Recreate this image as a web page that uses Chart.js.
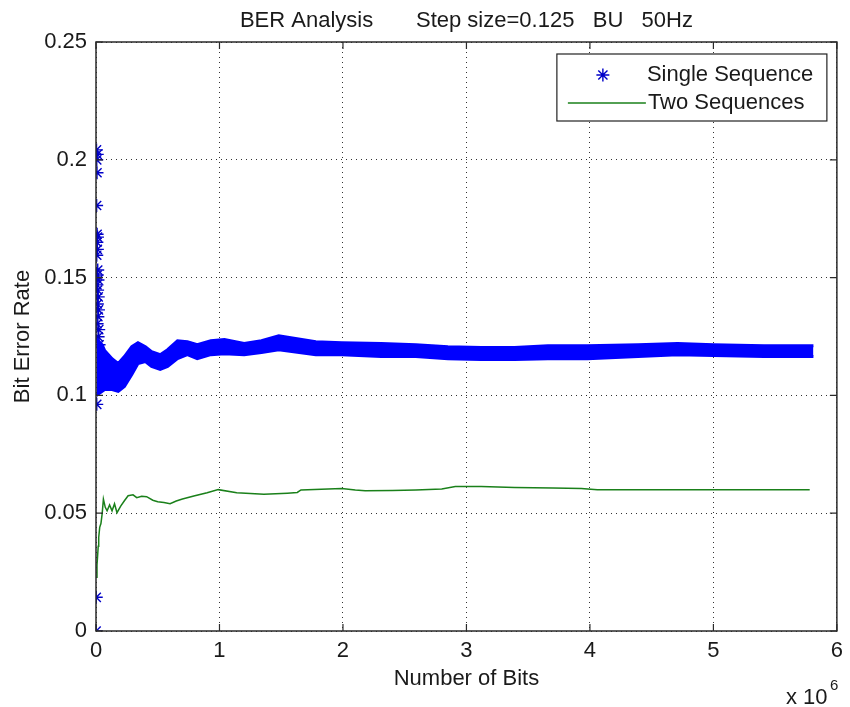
<!DOCTYPE html>
<html>
<head>
<meta charset="utf-8">
<script src="https://cdn.jsdelivr.net/npm/chart.js@4.4.1/dist/chart.umd.min.js"></script>
<style>
  html, body { margin:0; padding:0; background:#fff; }
  #wrap { width:850px; height:707px; }
</style>
</head>
<body>
<div id="wrap"><canvas id="berChart" width="850" height="707"></canvas></div>
<script>
// =====================================
// DATA  (x in units of 10^6 bits)
// =====================================

const xTicks = [0, 1, 2, 3, 4, 5, 6];
const xTickLabels = ['0', '1', '2', '3', '4', '5', '6'];
const yTicks = [0, 0.05, 0.1, 0.15, 0.2, 0.25];
const yTickLabels = ['0', '0.05', '0.1', '0.15', '0.2', '0.25'];

// Single Sequence - isolated stars at the very start
const singleX = [0.004, 0.010, 0.006, 0.008, 0.005, 0.009, 0.012, 0.007, 0.011, 0.006,
                 0.014, 0.010, 0.016, 0.008, 0.013, 0.018, 0.011, 0.020, 0.015, 0.009,
                 0.022, 0.017, 0.025, 0.006, 0.002, 0.001];
const singleY = [0.2042, 0.2023, 0.2000, 0.1945, 0.1806, 0.1684, 0.1672, 0.1650, 0.1620, 0.1595,
                 0.1532, 0.1511, 0.1490, 0.1469, 0.1447, 0.1418, 0.1388, 0.1363, 0.1334, 0.1304,
                 0.1279, 0.1249, 0.1215, 0.0962, 0.0143, 0.0];

// Single Sequence - dense star cloud, read as its upper / lower edge
const bandX = [0.003, 0.05, 0.07, 0.13, 0.18, 0.23, 0.29, 0.34, 0.40, 0.45,
               0.52, 0.58, 0.66, 0.74, 0.82, 0.93, 1.04, 1.20, 1.34, 1.48,
               1.78, 1.99, 2.31, 2.59, 2.85, 3.12, 3.39, 3.66, 3.98, 4.39,
               4.71, 5.00, 5.41, 5.81];
const bandUpper = [0.1240, 0.1215, 0.1190, 0.1156, 0.1135, 0.1165, 0.1207, 0.1224, 0.1207, 0.1186,
                   0.1173, 0.1194, 0.1232, 0.1228, 0.1215, 0.1232, 0.1237, 0.1220, 0.1232, 0.1253,
                   0.1228, 0.1224, 0.1220, 0.1215, 0.1207, 0.1203, 0.1203, 0.1211, 0.1211, 0.1215,
                   0.1220, 0.1215, 0.1211, 0.1211];
const bandLower = [0.1000, 0.1017, 0.1025, 0.1025, 0.1017, 0.1038, 0.1089, 0.1135, 0.1144, 0.1123,
                   0.1110, 0.1123, 0.1156, 0.1173, 0.1156, 0.1173, 0.1177, 0.1173, 0.1182, 0.1194,
                   0.1173, 0.1173, 0.1165, 0.1165, 0.1156, 0.1152, 0.1152, 0.1156, 0.1156, 0.1165,
                   0.1173, 0.1169, 0.1165, 0.1165];

// Two Sequences
const twoX = [0.005, 0.008, 0.012, 0.018, 0.022, 0.030, 0.040, 0.050, 0.060, 0.075,
              0.090, 0.110, 0.130, 0.150, 0.170, 0.200, 0.230, 0.260, 0.300, 0.330,
              0.370, 0.410, 0.460, 0.500, 0.550, 0.600, 0.650, 0.700, 0.800, 0.900,
              0.990, 1.140, 1.360, 1.550, 1.630, 1.660, 1.990, 2.100, 2.180, 2.400,
              2.590, 2.800, 2.910, 3.120, 3.390, 3.700, 3.930, 4.060, 4.500, 5.000,
              5.500, 5.780];
const twoY = [0.0228, 0.0280, 0.0310, 0.0360, 0.0397, 0.0440, 0.0456, 0.0498, 0.0560, 0.0525,
              0.0510, 0.0535, 0.0510, 0.0540, 0.0502, 0.0530, 0.0553, 0.0574, 0.0578, 0.0566,
              0.0572, 0.0570, 0.0555, 0.0549, 0.0545, 0.0540, 0.0552, 0.0560, 0.0574, 0.0587,
              0.0600, 0.0587, 0.0580, 0.0585, 0.0588, 0.0599, 0.0605, 0.0598, 0.0595, 0.0596,
              0.0599, 0.0603, 0.0613, 0.0613, 0.0609, 0.0607, 0.0605, 0.0600, 0.0600, 0.0600,
              0.0600, 0.0600];

// =====================================
// STYLE
// =====================================

const FONT = "'Liberation Sans', Arial, sans-serif";
const FSIZE = 22;
const TXT = '#1a1a1a';
const BLUE = '#0000ff';
const STAR = '#0000c8';
const GREEN = '#1a801a';

const pts = (xs, ys) => xs.map((x, i) => ({ x, y: ys[i] }));

// box, inward ticks, legend, title, exponent
const matlabFrame = {
  id: 'matlabFrame',
  afterDatasetsDraw(chart) {
    const { ctx, chartArea: a, scales } = chart;
    ctx.save();

    // axes box
    ctx.strokeStyle = '#2a2a2a';
    ctx.lineWidth = 1.5;
    ctx.setLineDash([]);
    ctx.strokeRect(a.left, a.top, a.right - a.left, a.bottom - a.top);

    // inward tick marks
    ctx.lineWidth = 1.2;
    ctx.beginPath();
    xTicks.forEach(v => {
      const px = scales.x.getPixelForValue(v);
      ctx.moveTo(px, a.bottom); ctx.lineTo(px, a.bottom - 7);
      ctx.moveTo(px, a.top); ctx.lineTo(px, a.top + 7);
    });
    yTicks.forEach(v => {
      const py = scales.y.getPixelForValue(v);
      ctx.moveTo(a.left, py); ctx.lineTo(a.left + 7, py);
      ctx.moveTo(a.right, py); ctx.lineTo(a.right - 7, py);
    });
    ctx.stroke();

    // legend
    const lx = a.right - 280, ly = a.top + 12, lw = 270, lh = 67;
    ctx.fillStyle = '#fff';
    ctx.fillRect(lx, ly, lw, lh);
    ctx.strokeStyle = '#222';
    ctx.lineWidth = 1.2;
    ctx.strokeRect(lx, ly, lw, lh);

    ctx.strokeStyle = STAR;
    ctx.fillStyle = STAR;
    ctx.lineWidth = 1.4;
    Chart.helpers.drawPoint(ctx, { pointStyle: 'star', radius: 6.5, borderWidth: 1.4 }, lx + 46, ly + 21);

    ctx.strokeStyle = GREEN;
    ctx.lineWidth = 1.5;
    ctx.beginPath();
    ctx.moveTo(lx + 11, ly + 49); ctx.lineTo(lx + 89, ly + 49);
    ctx.stroke();

    ctx.fillStyle = TXT;
    ctx.font = FSIZE + 'px ' + FONT;
    ctx.textAlign = 'left';
    ctx.textBaseline = 'middle';
    ctx.fillText(chart.data.datasets[2].label, lx + 90, ly + 21);
    ctx.fillText(chart.data.datasets[3].label, lx + 91, ly + 49);

    // title
    ctx.textAlign = 'center';
    ctx.fillText('BER Analysis       Step size=0.125   BU   50Hz', (a.left + a.right) / 2, 21);

    // x exponent
    ctx.textAlign = 'left';
    ctx.fillText('x 10', a.right - 51, 698);
    ctx.font = '15px ' + FONT;
    ctx.fillText('6', a.right - 7, 686);

    ctx.restore();
  }
};

// =====================================
// CHART
// =====================================

const ctx = document.getElementById('berChart').getContext('2d');

new Chart(ctx, {
  type: 'scatter',
  data: {
    datasets: [
      {
        label: 'band-top',
        data: pts(bandX, bandUpper),
        showLine: true,
        borderColor: BLUE,
        borderWidth: 3,
        pointRadius: 0,
        fill: false,
        tension: 0
      },
      {
        label: 'band-bottom',
        data: pts(bandX, bandLower),
        showLine: true,
        borderColor: BLUE,
        backgroundColor: BLUE,
        borderWidth: 3,
        pointRadius: 0,
        fill: '-1',
        tension: 0
      },
      {
        label: 'Single Sequence',
        data: pts(singleX, singleY),
        showLine: false,
        pointStyle: 'star',
        pointRadius: 6.5,
        borderWidth: 1.4,
        borderColor: STAR,
        backgroundColor: STAR
      },
      {
        label: 'Two Sequences',
        data: pts(twoX, twoY),
        showLine: true,
        borderColor: GREEN,
        borderWidth: 1.5,
        pointRadius: 0,
        fill: false,
        tension: 0
      }
    ]
  },
  options: {
    responsive: false,
    animation: false,
    devicePixelRatio: 1,
    layout: { padding: { left: 0, right: 9, top: 42, bottom: 0 } },
    plugins: {
      legend: { display: false },
      title: { display: false },
      tooltip: { enabled: false }
    },
    scales: {
      x: {
        type: 'linear',
        min: 0,
        max: 6,
        afterBuildTicks: s => { s.ticks = xTicks.map(v => ({ value: v })); },
        afterFit: s => { s.height = 76; },
        ticks: {
          callback: (v, i) => xTickLabels[i],
          font: { family: FONT, size: FSIZE },
          color: TXT,
          padding: 7,
          maxRotation: 0
        },
        grid: { color: '#333', lineWidth: 1, drawTicks: false },
        border: { display: false, dash: [1, 4] },
        title: {
          display: true,
          text: 'Number of Bits',
          font: { family: FONT, size: FSIZE },
          color: TXT,
          padding: { top: 0, bottom: 15 }
        }
      },
      y: {
        type: 'linear',
        min: 0,
        max: 0.25,
        afterBuildTicks: s => { s.ticks = yTicks.map(v => ({ value: v })); },
        afterFit: s => { s.width = 96; },
        ticks: {
          callback: (v, i) => yTickLabels[i],
          font: { family: FONT, size: FSIZE },
          color: TXT,
          padding: 9
        },
        grid: { color: '#333', lineWidth: 1, drawTicks: false },
        border: { display: false, dash: [1, 4] },
        title: {
          display: true,
          text: 'Bit Error Rate',
          font: { family: FONT, size: FSIZE },
          color: TXT,
          padding: { top: 10, bottom: 0 }
        }
      }
    }
  },
  plugins: [matlabFrame]
});
</script>
</body>
</html>
